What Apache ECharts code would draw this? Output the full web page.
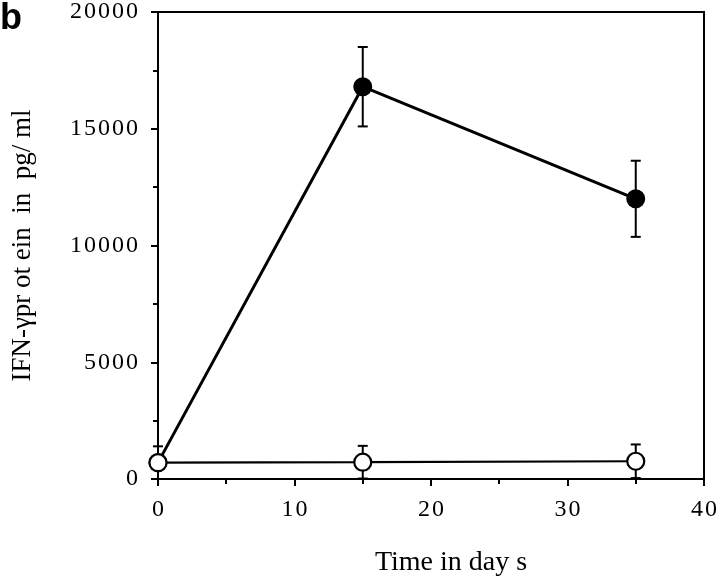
<!DOCTYPE html>
<html>
<head>
<meta charset="utf-8">
<script src="https://cdn.jsdelivr.net/npm/echarts@6/dist/echarts.min.js"></script>
<style>
  html, body { margin: 0; padding: 0; background: #fff; }
  #chart { width: 720px; height: 582px; }
</style>
</head>
<body>
<div id="chart"></div>
<script>
// data
const days = [0, 15, 35];
const treatedMean = [700, 16800, 12000];   // filled circles
const treatedErr = [0, 1700, 1630];
const controlMean = [700, 720, 760];       // open circles
const controlErr = [700, 700, 720];

const yTicks = [0, 5000, 10000, 15000, 20000];
const xTicks = [0, 10, 20, 30, 40];

const serif = 'Liberation Serif';
// spread digits a bit like the typeset original
const spaced = v => String(v).split('').join('\u200A');

const chart = echarts.init(document.getElementById('chart'));

function errData(xs, mean, err) {
    return xs.map((x, i) => [x, mean[i] - err[i], mean[i] + err[i]]);
}

function renderErr(params, api) {
    const x = api.value(0);
    const lo = api.coord([x, api.value(1)]);
    const hi = api.coord([x, api.value(2)]);
    const half = 5;
    const style = { stroke: '#000', lineWidth: 2 };
    return {
        type: 'group',
        children: [
            { type: 'line', shape: { x1: hi[0], y1: hi[1], x2: lo[0], y2: lo[1] }, style: style },
            { type: 'line', shape: { x1: hi[0] - half, y1: hi[1], x2: hi[0] + half, y2: hi[1] }, style: style },
            { type: 'line', shape: { x1: lo[0] - half, y1: lo[1], x2: lo[0] + half, y2: lo[1] }, style: style }
        ]
    };
}

const axisStroke = { color: '#000', width: 2 };

const option = {
    animation: false,
    backgroundColor: '#fff',
    graphic: [{
        type: 'text', left: 0, top: 1,
        style: { text: 'b', font: 'bold 36px "Liberation Sans"', fill: '#000' }
    }],
    grid: {
        left: 158, right: 13, top: 7, bottom: 100,
        show: true, borderColor: '#000', borderWidth: 2, backgroundColor: 'transparent'
    },
    xAxis: {
        type: 'value', min: xTicks[0], max: xTicks[xTicks.length - 1], interval: 10,
        name: 'Time in day s', nameLocation: 'middle', nameGap: 70,
        nameTextStyle: { fontFamily: serif, fontSize: 28, color: '#000', padding: [0, 0, 0, 40] },
        axisLine: { show: true, lineStyle: axisStroke },
        axisTick: { show: true, length: 7, lineStyle: axisStroke },
        minorTick: { show: true, splitNumber: 2, length: 5, lineStyle: axisStroke },
        splitLine: { show: false },
        axisLabel: { fontFamily: serif, fontSize: 24, color: '#000', margin: 19, formatter: spaced }
    },
    yAxis: {
        type: 'value', min: yTicks[0], max: yTicks[yTicks.length - 1], interval: 5000,
        name: 'IFN-γpr ot ein  in  pg/ ml', nameLocation: 'middle', nameGap: 122,
        nameTextStyle: { fontFamily: serif, fontSize: 27, color: '#000' },
        axisLine: { show: true, lineStyle: axisStroke },
        axisTick: { show: true, length: 7, lineStyle: axisStroke },
        minorTick: { show: true, splitNumber: 2, length: 5, lineStyle: axisStroke },
        splitLine: { show: false },
        axisLabel: { fontFamily: serif, fontSize: 24, color: '#000', margin: 20, formatter: spaced }
    },
    series: [
        {
            type: 'custom', z: 1, renderItem: renderErr,
            data: errData(days, treatedMean, treatedErr), encode: { x: 0, y: [1, 2] }
        },
        {
            type: 'custom', z: 1, renderItem: renderErr,
            data: errData(days, controlMean, controlErr), encode: { x: 0, y: [1, 2] }
        },
        {
            type: 'line', z: 2,
            data: days.map((d, i) => [d, treatedMean[i]]),
            symbol: 'circle', symbolSize: 19,
            itemStyle: { color: '#000' },
            lineStyle: { color: '#000', width: 3 }
        },
        {
            type: 'line', z: 3,
            data: days.map((d, i) => [d, controlMean[i]]),
            symbol: 'circle', symbolSize: 17,
            itemStyle: { color: '#fff', borderColor: '#000', borderWidth: 2.2 },
            lineStyle: { color: '#000', width: 2.2 }
        }
    ]
};

chart.setOption(option);
</script>
</body>
</html>
